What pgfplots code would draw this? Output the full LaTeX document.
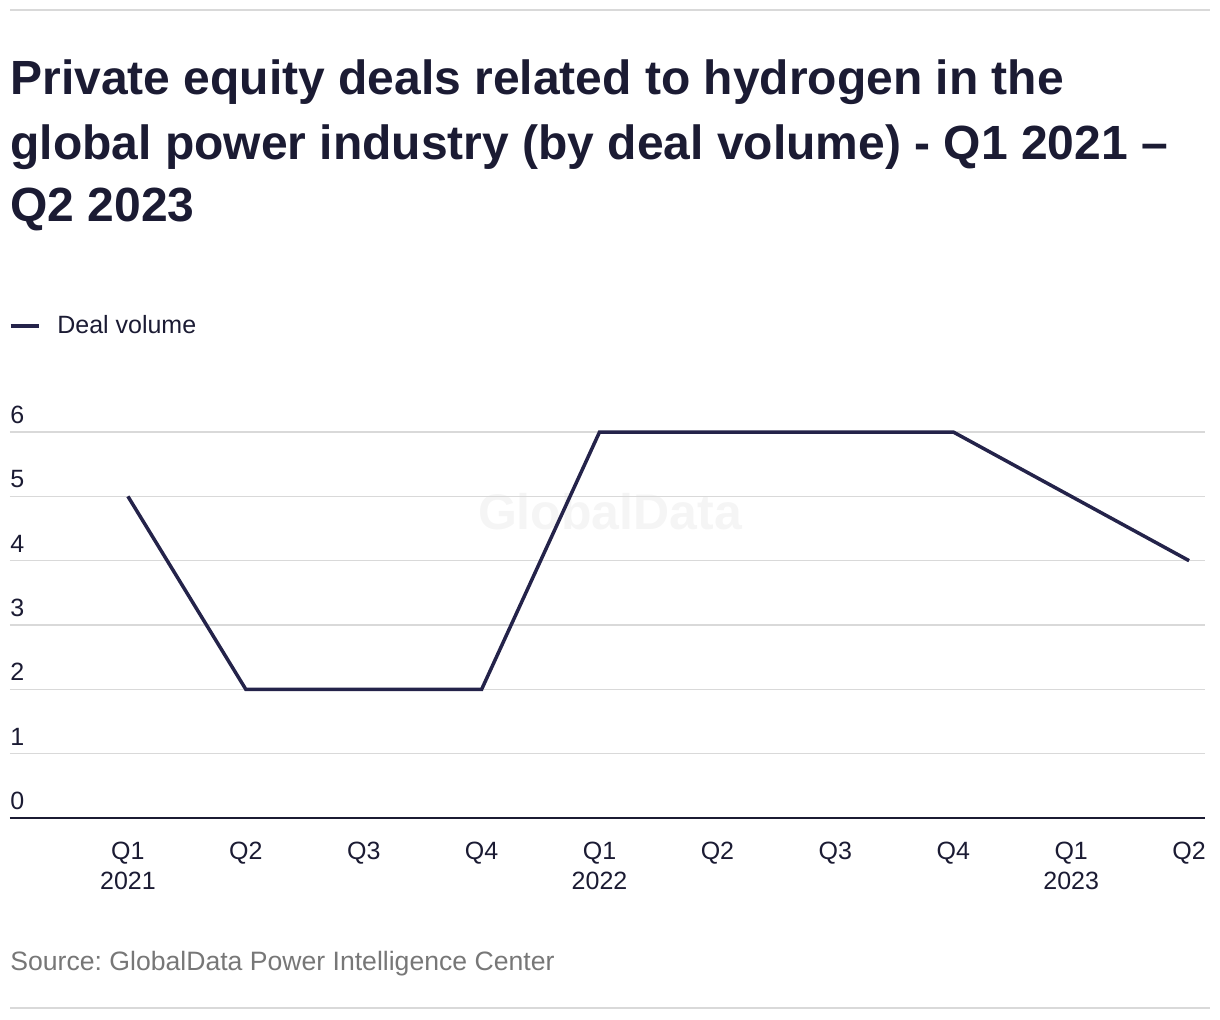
\documentclass[border=0pt]{standalone}
\usepackage{pgfplots}
\pgfplotsset{compat=1.18}
\usepackage{fontspec}
\setmainfont{Liberation Sans}
\frenchspacing

\definecolor{navy}{HTML}{24234A}
\definecolor{ink}{HTML}{1B1B33}
\definecolor{gridc}{HTML}{D9D9D9}
\definecolor{srcgrey}{HTML}{777777}
\definecolor{wmark}{HTML}{F5F5F5}

\begin{document}
\begin{tikzpicture}[x=1pt,y=1pt]
\useasboundingbox (0pt,0pt) rectangle (610pt,-510pt);
% rules at top and bottom
\draw[gridc, line width=0.6pt] (5pt,-5pt) -- (605pt,-5pt);
\draw[gridc, line width=0.6pt] (5pt,-504pt) -- (605pt,-504pt);
% title
\begin{scope}[every node/.style={anchor=base west, inner sep=0, text=ink,
    font=\fontsize{24}{28}\selectfont\bfseries}]
\node at (5pt,-47.5pt) {Private equity deals related to hydrogen in the};
\node at (5pt,-80pt) {global power industry (by deal volume) - Q1 2021 –};
\node at (5pt,-111pt) {Q2 2023};
\end{scope}
% watermark
\node[text=wmark, font=\fontsize{25}{30}\selectfont\bfseries] at (305pt,-256pt) {GlobalData};
% source
\node[anchor=base west, inner sep=0, text=srcgrey, font=\fontsize{13.3}{15}\selectfont]
  at (5pt,-485pt) {Source: GlobalData Power Intelligence Center};

\begin{axis}[
    at={(5pt,-409pt)}, anchor=south west,
    scale only axis, width=597.5pt, height=193pt,
    xmin=-1.0, xmax=9.135, ymin=0, ymax=6,
    clip=false,
    axis x line*=bottom, axis y line*=left,
    y axis line style={draw=none},
    x axis line style={ink, line width=1pt, -},
    major tick length=0pt,
    ytick={0,...,6},
    ymajorgrids, grid style={gridc, line width=0.75pt},
    xtick={0,...,9},
    xticklabels={{Q1\\2021},Q2,Q3,Q4,{Q1\\2022},Q2,Q3,Q4,{Q1\\2023},Q2},
    xticklabel style={align=center, anchor=north, inner sep=0, yshift=-12pt,
      text=ink, font=\fontsize{12.5}{15}\selectfont},
    yticklabel style={anchor=south west, inner sep=0, yshift=4pt,
      text=ink, font=\fontsize{12.5}{15}\selectfont},
    /pgf/number format/assume math mode=true,
    legend style={at={(-0.0017,1.2746)}, anchor=west, draw=none, fill=none,
      inner sep=0pt, text=ink, font=\fontsize{12.5}{15}\selectfont,
      nodes={inner sep=0pt}},
    legend cell align=left,
    legend image code/.code={\draw[#1, line width=2.2pt] (0pt,0pt) -- (14pt,0pt);
      \path (22.5pt,0pt);},
]
\addplot[navy, line width=1.75pt] coordinates {
    (0,5) (1,2) (2,2) (3,2) (4,6) (5,6) (6,6) (7,6) (8,5) (9,4)
};
\addlegendentry{Deal volume}
\end{axis}
\end{tikzpicture}
\end{document}
